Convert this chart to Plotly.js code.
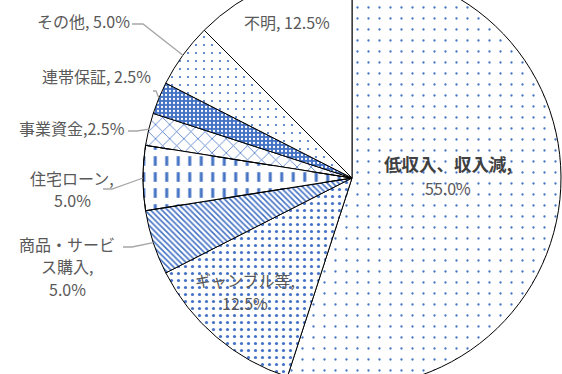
<!DOCTYPE html>
<html>
<head>
<meta charset="utf-8">
<script src="https://cdn.plot.ly/plotly-3.0.1.min.js"></script>
<style>
html,body{margin:0;padding:0;width:562px;height:374px;overflow:hidden;background:#fff;}
#chart{position:absolute;left:0;top:-31px;width:562px;height:418px;}
</style>
</head>
<body>
<div id="chart"></div>
<script>
// ---- data ----
const categories = ["低収入、収入減","ギャンブル等","商品・サービス購入","住宅ローン","事業資金","連帯保証","その他","不明"];
const shares = [55.0, 12.5, 5.0, 5.0, 2.5, 2.5, 5.0, 12.5];
// label templates ({p} = percentage, | = line break)
const labelTemplates = ["低収入、収入減,|{p}","ギャンブル等,|{p}","商品・サービ|ス購入,|{p}","住宅ローン,|{p}","事業資金,{p}","連帯保証, {p}","その他, {p}","不明, {p}"];

// ---- styling / layout ----
const W = 562, H = 418, TOP = -31;        // div geometry (px)
const CX = 352, CY = 178, R = 209;         // pie geometry in window px
const BLUE = "#4472C4";
const CLEAR = "rgba(0,0,0,0)";
const patShape = [".", ".", "\\", "|", "x", ".", ".", ""];
const patFg    = [BLUE, BLUE, BLUE, BLUE, BLUE, "#ffffff", BLUE, BLUE];
const patBg    = ["#ffffff","#ffffff","#ffffff","#ffffff","#ffffff",BLUE,"#ffffff","#ffffff"];
const patSize  = [11, 7, 4, 11.5, 10, 4, 8, 8];
const patSol   = [0.035, 0.16, 0.4, 0.26, 0.15, 0.25, 0.06, 0.1];
// overlay that breaks the vertical lines into dashes
const dashShape = ["", "", "", "-", "", "", "", ""];
const dashLineW = [0, 0, 0, 1, 0, 0, 0, 0];

// label centers (px), line gaps, leader start/elbow (px)
const labelPos = [[448,176],[245,291.5],[67,266],[72,189],[72,128],[96,76],[83,21],[287,22]];
const lineGaps = [24, 23, 22.5, 22.5, 0, 0, 0, 0];
const leader = [null, null, [[123,247],[132,247]], [[103,189],[112,189]], [[128,131],[137,131]], [[153,91],[156,91]], [[132,24],[143,24]], null];

const px2x = x => x / W;
const px2y = y => 1 - (y - TOP) / H;

const total = shares.reduce((a,b)=>a+b,0);
const annotations = [];
const shapes = [];
let cum = 0;
shares.forEach((v,i)=>{
  const mid = (cum + v/2) / total * 2 * Math.PI;
  cum += v;
  const txt = labelTemplates[i].replace("{p}", v.toFixed(1) + "%");
  const lines = txt.split("|");
  lines.forEach((ln,k)=>{
    const y = labelPos[i][1] + (k - (lines.length-1)/2) * lineGaps[i];
    const bold = (i === 0 && k === 0);
    annotations.push({
      xref:"paper", yref:"paper", x:px2x(labelPos[i][0]), y:px2y(y),
      xanchor:"center", yanchor:"middle", showarrow:false, borderpad:0,
      text: bold ? "<b>"+ln+"</b>" : ln,
      font:{family:"'Noto Sans CJK JP', 'Noto Sans', sans-serif", size: bold ? 17.5 : 16, color: bold ? "#404040" : "#595959"}
    });
  });
  if (leader[i]) {
    const ax = CX + R * Math.sin(mid), ay = CY - R * Math.cos(mid);
    const [s,e] = leader[i];
    shapes.push({
      type:"path", xref:"paper", yref:"paper",
      path:`M ${px2x(s[0])} ${px2y(s[1])} L ${px2x(e[0])} ${px2y(e[1])} L ${px2x(ax)} ${px2y(ay)}`,
      line:{color:"#a6a6a6", width:1.3}
    });
  }
});

const common = {
  type:"pie",
  labels: categories,
  values: shares,
  sort:false,
  direction:"clockwise",
  rotation:0,
  textinfo:"none",
  hoverinfo:"skip",
  showlegend:false,
  domain:{x:[(CX-R)/W,(CX+R)/W], y:[0,1]}
};

const trace = Object.assign({}, common, {
  marker:{
    colors: patBg,
    line:{color:"#000000", width:1},
    pattern:{shape:patShape, fgcolor:patFg, bgcolor:patBg, size:patSize, solidity:patSol, fillmode:"replace"}
  }
});
const dashTrace = Object.assign({}, common, {
  marker:{
    colors: shares.map(()=>CLEAR),
    line:{color:"#000000", width:dashLineW},
    pattern:{shape:dashShape, fgcolor:"#ffffff", bgcolor:CLEAR, size:16, solidity:0.4, fillmode:"replace"}
  }
});

Plotly.newPlot("chart",[trace, dashTrace],{
  width:W, height:H,
  margin:{l:0,r:0,t:0,b:0},
  paper_bgcolor:"#ffffff",
  showlegend:false,
  annotations: annotations,
  shapes: shapes
},{staticPlot:true});
</script>
</body>
</html>
